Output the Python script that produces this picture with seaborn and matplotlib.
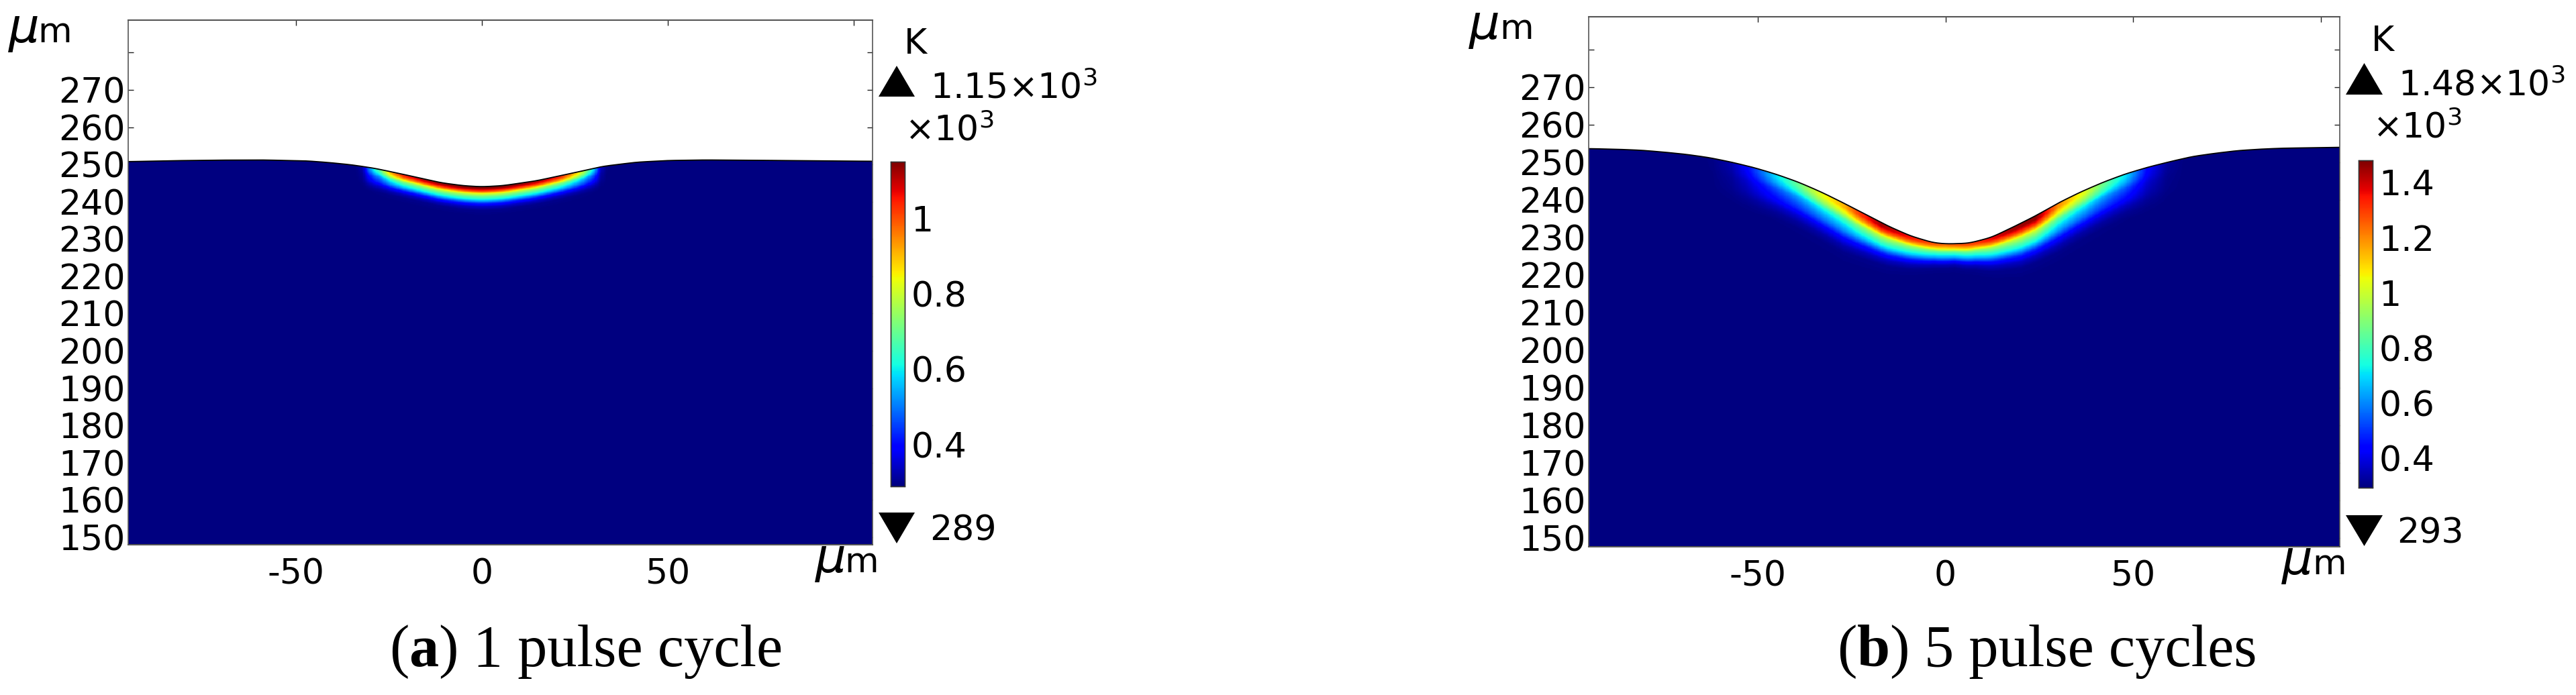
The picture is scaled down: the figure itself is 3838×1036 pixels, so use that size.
import numpy as np
import pandas as pd
import seaborn as sns
import matplotlib.pyplot as plt
from matplotlib.patches import Polygon
from matplotlib.transforms import Affine2D

W, H = 3838, 1036

# surface height (um)
surf_x_a = [-95, -83, -71, -59, -47, -41, -35, -29, -23, -17, -11, -5, 0, 5.6, 14.6, 23.6, 32.6, 41.6, 50, 60,
            75, 90, 105]
surf_y_a = [250.75, 251.0, 251.15, 251.2, 250.95, 250.5, 249.9, 249.0, 247.75, 246.45, 245.1, 244.3, 244.0,
            244.3, 245.6, 247.5, 249.5, 250.6, 251.05, 251.2, 251.1, 250.95, 250.85]
surf_x_b = [-95, -86.7, -80.8, -74.8, -68.9, -62.9, -57, -51, -45, -39.1, -33.1, -27.2, -21.2, -15.2, -9.3, -3.3,
            0.3, 6.2, 12.2, 18.1, 24.1, 30.1, 36, 42, 47.9, 53.9, 59.9, 65.8, 71.8, 77.7, 83.7, 89.6, 105]
surf_y_b = [253.65, 253.45, 253.2, 252.7, 252.1, 251.25, 250.05, 248.6, 246.8, 244.7, 242.1, 239.2, 236.1, 233.0,
            230.4, 228.6, 228.27, 228.45, 230.0, 232.8, 235.8, 239.2, 242.1, 244.7, 246.9, 248.7, 250.2, 251.55,
            252.4, 253.1, 253.5, 253.75, 254.0]

# temperature at the surface (K)
heat_x_a = [-95, -34, -32, -30.5, -29, -27, -25.8, -24, -21, -15, -8, 0, 8, 15, 21, 23.6, 26, 27.2, 28.5,
            30.3, 32, 33.5, 35, 105]
heat_t_a = [289, 289, 320, 480, 600, 700, 800, 930, 1040, 1110, 1140, 1150, 1140, 1110, 1040, 950, 850, 780,
            690, 560, 340, 295, 289, 289]
heat_x_b = [-95, -66, -62, -57, -53, -45, -39, -33, -27, -23, -17, -9, -3, 0, 8, 14, 18, 24, 27, 30, 34, 37, 42,
            48, 54, 59, 64, 105]
heat_t_b = [293, 293, 300, 340, 430, 700, 860, 1040, 1150, 1300, 1450, 1350, 1260, 1230, 1300, 1400, 1450, 1470,
            1350, 1200, 1100, 1030, 860, 700, 430, 320, 293, 293]

# depth scale of the heated band along x
band_x_a = [-95, 0, 105]
band_w_a = [1.0, 1.0, 1.0]
band_x_b = [-95, -60, -45, -27, -15, -9, -3, 2.4, 8, 14, 20, 30, 48, 60, 105]
band_w_b = [2.0, 2.0, 1.9, 2.1, 1.7, 1.4, 1.1, 1.03, 1.2, 1.55, 1.9, 2.1, 1.9, 2.0, 2.0]

# normalised temperature against depth below the surface (um)
prof_depth = [0, 0.5, 1.2, 1.67, 2.0, 2.7, 3.5, 4.5, 5.4, 6.3, 8.0]
prof_frac = [1, 0.99, 0.85, 0.71, 0.6, 0.477, 0.36, 0.164, 0.06, 0.013, 0]

y_ticks = [150, 160, 170, 180, 190, 200, 210, 220, 230, 240, 250, 260, 270, 280]
y_labels = ["150", "160", "170", "180", "190", "200", "210", "220", "230", "240", "250", "260", "270", ""]
x_ticks = [-50, 0, 50, 100]
x_labels = ["-50", "0", "50", ""]

cb_ticks_a = [400, 600, 800, 1000]
cb_labels_a = ["0.4", "0.6", "0.8", "1"]
cb_ticks_b = [400, 600, 800, 1000, 1200, 1400]
cb_labels_b = ["0.4", "0.6", "0.8", "1", "1.2", "1.4"]

sns.set_theme(style="ticks", rc={"axes.edgecolor": "#555555", "xtick.color": "#222222", "ytick.color": "#222222"})
plt.rcParams["font.family"] = "DejaVu Sans"
plt.rcParams["mathtext.fontset"] = "dejavusans"

FS = 37.5
fig = plt.figure(figsize=(W / 100, H / 100), dpi=100)


def box(l, t, r, b):
    return [l / W, 1 - b / H, (r - l) / W, (b - t) / H]


def txt(x, y, s, size=FS):
    return fig.text(x / W, 1 - y / H, s, fontsize=size, color="black", va="baseline")


def unit(x_mu, x_m, y):
    # the mu of the reference is much larger than the m beside it
    txt(x_mu, y, r"$\mu$", size=52)
    txt(x_m, y, "m")


def tri(x0, x1, ytip, ybase):
    pts = [(x0 / W, 1 - ybase / H), (x1 / W, 1 - ybase / H), ((x0 + x1) / 2 / W, 1 - ytip / H)]
    fig.add_artist(Polygon(pts, closed=True, color="black", lw=0, transform=fig.transFigure))


def caption(x, y, parts):
    r = fig.canvas.get_renderer()
    for s, w in parts:
        t = fig.text(x / W, 1 - y / H, s, fontsize=63.5, family="Liberation Serif", weight=w, color="black",
                     va="baseline")
        x = t.get_window_extent(r).x1


def smooth_curve(x, y, fine):
    # rounds off the corners between the values
    vals = np.interp(fine, x, y)
    n = 15
    for _ in range(2):
        vals = np.convolve(np.pad(vals, n // 2, mode="edge"), np.ones(n) / n, mode="valid")
    return vals


def panel(pos, cpos, ylim, tmin, tmax, sx, sy, hx, ht, bx, bw, cb_t, cb_l):
    ax = fig.add_axes(box(*pos))
    cax = fig.add_axes(box(*cpos))

    dx, dy = 0.2, 0.1
    xs = np.arange(-95, 105, dx)
    ys = np.arange(ylim[0], ylim[1], dy)
    mid = xs + dx / 2
    curve = smooth_curve(sx, sy, mid)
    gx, gy = np.meshgrid(mid, ys + dy / 2)
    top = np.tile(curve, (len(ys), 1))
    depth = np.clip(top - gy, 0, None) / np.interp(gx, bx, bw)
    temp = tmin + (np.interp(gx, hx, ht) - tmin) * np.interp(depth, prof_depth, prof_frac)
    field = pd.DataFrame(temp, index=ys, columns=xs)

    sns.heatmap(field, mask=gy > top, cmap="jet", vmin=tmin, vmax=tmax, ax=ax, cbar_ax=cax,
                xticklabels=False, yticklabels=False, cbar_kws={"ticks": cb_t})
    # heatmap draws in cell numbers, put its mesh back on the um axes
    ax.collections[0].set_transform(Affine2D().scale(dx, dy).translate(-95, ylim[0]) + ax.transData)

    sns.lineplot(x=mid, y=curve, color="black", lw=1.3, ax=ax, legend=False, estimator=None)

    ax.set_xlim(-95, 105)
    ax.set_ylim(*ylim)
    ax.set_xticks(x_ticks, x_labels)
    ax.set_yticks(y_ticks, y_labels)
    ax.set_xlabel("")
    ax.set_ylabel("")
    ax.tick_params(direction="in", length=5.5, width=1, labelsize=FS, top=True, right=True, labelcolor="black")
    ax.tick_params(axis="x", pad=14.4)
    ax.tick_params(axis="y", pad=3)
    for s in ax.spines.values():
        s.set_visible(True)
        s.set_linewidth(1.5)
        s.set_color("#555555")
    for s in ["left", "right"]:
        ax.spines[s].set_linewidth(1.2)

    cax.set_yticks(cb_t, cb_l)
    cax.tick_params(direction="in", length=5, width=1, labelsize=FS, left=True, right=True, pad=7,
                    labelcolor="black")
    for s in cax.spines.values():
        s.set_visible(True)
        s.set_linewidth(1)
        s.set_color("#333333")


panel((191, 30, 1300, 811.5), (1327, 241, 1348, 725), (148.1, 288.7), 289, 1150,
      surf_x_a, surf_y_a, heat_x_a, heat_t_a, band_x_a, band_w_a, cb_ticks_a, cb_labels_a)
panel((2367, 25, 3486, 814.7), (3514, 239, 3535, 727), (147.7, 288.75), 293, 1480,
      surf_x_b, surf_y_b, heat_x_b, heat_t_b, band_x_b, band_w_b, cb_ticks_b, cb_labels_b)

unit(12, 56, 63)
unit(1214, 1258, 853)
txt(1347, 80.5, "K")
txt(1386, 146.7, r"1.15$\times$10$^3$")
txt(1348, 210, r"$\times$10$^3$")
txt(1385, 806, "289")
tri(1309, 1363, 98, 144)
tri(1309, 1363, 810, 764)

unit(2188, 2234, 58)
unit(3399, 3445, 856)
txt(3533, 76, "K")
txt(3573, 142, r"1.48$\times$10$^3$")
txt(3535, 206, r"$\times$10$^3$")
txt(3571, 809, "293")
tri(3495, 3550, 94, 141)
tri(3495, 3550, 814, 768)

caption(580, 993, [("(", "normal"), ("a", "bold"), (") ", "normal"), ("1 pulse cycle", "normal")])
caption(2737, 993, [("(", "normal"), ("b", "bold"), (") ", "normal"), ("5 pulse cycles", "normal")])

fig.savefig("out.png", dpi=100)
